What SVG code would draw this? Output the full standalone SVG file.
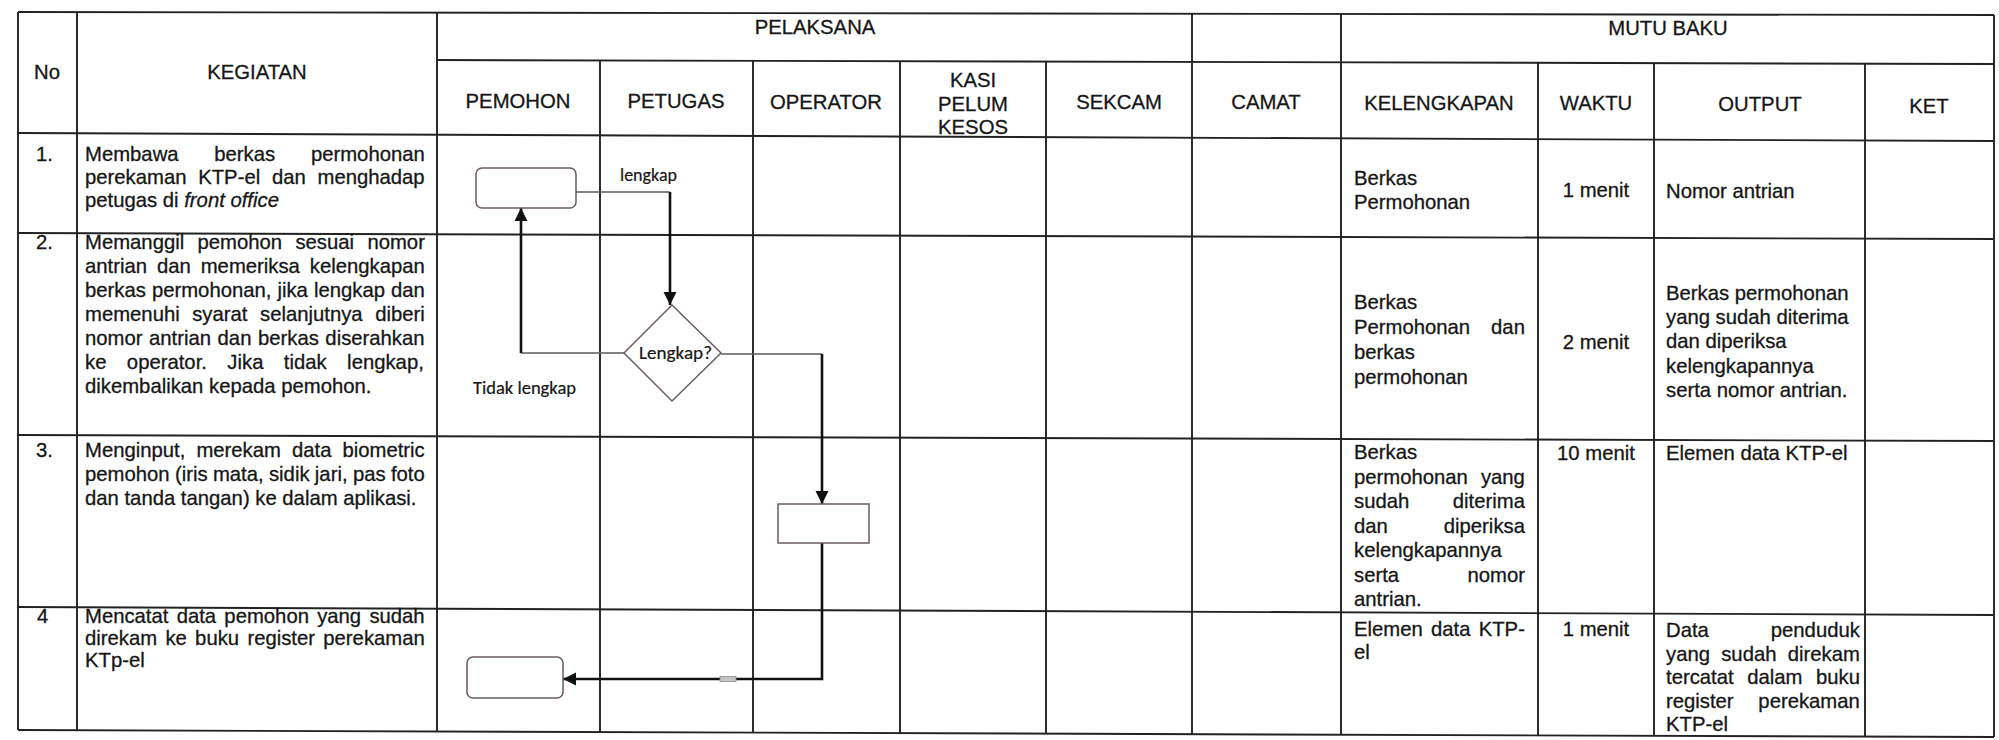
<svg xmlns="http://www.w3.org/2000/svg" width="1999" height="740" viewBox="0 0 1999 740">
<style>
.t{font-family:"Liberation Sans",Arial,sans-serif;font-size:20.3px;fill:#161616;stroke:#161616;stroke-width:0.3}
.c{text-anchor:middle}
.lbl{font-family:Carlito,Lato,"Open Sans",sans-serif;font-size:18.5px;fill:#161616;stroke:#161616;stroke-width:0.2}
.grid line{stroke:#222;stroke-width:1.9}
.thin{stroke:#5a5a5a;stroke-width:1.4;fill:none}
.thick{stroke:#111;stroke-width:2.6;fill:none}
.shape{fill:#fff;stroke:#6a5c5c;stroke-width:1.5}
</style>
<defs>
<marker id="arr" markerUnits="userSpaceOnUse" markerWidth="14" markerHeight="14" refX="13" refY="6.5" orient="auto">
<path d="M0,0 L13,6.5 L0,13 z" fill="#111"/>
</marker>
</defs>
<rect width="1999" height="740" fill="#fff"/>
<g id="table" class="grid">
<line x1="18" y1="12" x2="1994" y2="15"/>
<line x1="437" y1="60" x2="1994" y2="64"/>
<line x1="18" y1="133" x2="1994" y2="141"/>
<line x1="18" y1="233" x2="1994" y2="239"/>
<line x1="18" y1="435" x2="1994" y2="441"/>
<line x1="18" y1="607" x2="1994" y2="615"/>
<line x1="18" y1="730" x2="1994" y2="737"/>
<line x1="18" y1="12" x2="18" y2="730"/>
<line x1="77" y1="12" x2="77" y2="730"/>
<line x1="437" y1="12.6" x2="437" y2="731.5"/>
<line x1="600" y1="60.4" x2="600" y2="732"/>
<line x1="753" y1="60.8" x2="753" y2="732.6"/>
<line x1="900" y1="61.2" x2="900" y2="733.1"/>
<line x1="1046" y1="61.6" x2="1046" y2="733.6"/>
<line x1="1192" y1="13.8" x2="1192" y2="734.2"/>
<line x1="1341" y1="14" x2="1341" y2="734.7"/>
<line x1="1538" y1="63.1" x2="1538" y2="735.4"/>
<line x1="1654" y1="63.4" x2="1654" y2="735.8"/>
<line x1="1865" y1="64" x2="1865" y2="736.5"/>
<line x1="1994" y1="15" x2="1994" y2="737"/>
</g>
<g id="header">
<text class="t c" x="47" y="79">No</text>
<text class="t c" x="257" y="79">KEGIATAN</text>
<text class="t c" x="815" y="34">PELAKSANA</text>
<text class="t c" x="1668" y="35">MUTU BAKU</text>
<text class="t c" x="518" y="108">PEMOHON</text>
<text class="t c" x="676" y="108">PETUGAS</text>
<text class="t c" x="826" y="109">OPERATOR</text>
<text class="t c" x="973" y="87">KASI</text>
<text class="t c" x="973" y="111">PELUM</text>
<text class="t c" x="973" y="134">KESOS</text>
<text class="t c" x="1119" y="109">SEKCAM</text>
<text class="t c" x="1266" y="109">CAMAT</text>
<text class="t c" x="1439" y="110">KELENGKAPAN</text>
<text class="t c" x="1596" y="110">WAKTU</text>
<text class="t c" x="1760" y="111">OUTPUT</text>
<text class="t c" x="1929" y="113">KET</text>
</g>
<g id="row1">
<text class="t" x="36" y="161">1.</text>
<text class="t" x="85" y="161" word-spacing="30.1">Membawa berkas permohonan</text>
<text class="t" x="85" y="184" word-spacing="6.1">perekaman KTP-el dan menghadap</text>
<text class="t" x="85" y="207">petugas di <tspan font-style="italic">front office</tspan></text>
<text class="t" x="1354" y="185">Berkas</text>
<text class="t" x="1354" y="209">Permohonan</text>
<text class="t c" x="1596" y="197">1 menit</text>
<text class="t" x="1666" y="198">Nomor antrian</text>
</g>
<g id="row2">
<text class="t" x="36" y="249">2.</text>
<text class="t" x="85" y="249" word-spacing="7.7">Memanggil pemohon sesuai nomor</text>
<text class="t" x="85" y="273" word-spacing="4.3">antrian dan memeriksa kelengkapan</text>
<text class="t" x="85" y="297" word-spacing="0.4">berkas permohonan, jika lengkap dan</text>
<text class="t" x="85" y="321" word-spacing="6.9">memenuhi syarat selanjutnya diberi</text>
<text class="t" x="85" y="345" word-spacing="0.9">nomor antrian dan berkas diserahkan</text>
<text class="t" x="85" y="369" word-spacing="14.8">ke operator. Jika tidak lengkap,</text>
<text class="t" x="85" y="393">dikembalikan kepada pemohon.</text>
<text class="t" x="1354" y="309">Berkas</text>
<text class="t" x="1354" y="334" word-spacing="15.3">Permohonan dan</text>
<text class="t" x="1354" y="359">berkas</text>
<text class="t" x="1354" y="384">permohonan</text>
<text class="t c" x="1596" y="349">2 menit</text>
<text class="t" x="1666" y="300">Berkas permohonan</text>
<text class="t" x="1666" y="324">yang sudah diterima</text>
<text class="t" x="1666" y="348">dan diperiksa</text>
<text class="t" x="1666" y="373">kelengkapannya</text>
<text class="t" x="1666" y="397">serta nomor antrian.</text>
</g>
<g id="row3">
<text class="t" x="36" y="457">3.</text>
<text class="t" x="85" y="457" word-spacing="5.4">Menginput, merekam data biometric</text>
<text class="t" x="85" y="481" word-spacing="-0.3">pemohon (iris mata, sidik jari, pas foto</text>
<text class="t" x="85" y="505">dan tanda tangan) ke dalam aplikasi.</text>
<text class="t" x="1354" y="459">Berkas</text>
<text class="t" x="1354" y="483.5" word-spacing="7.4">permohonan yang</text>
<text class="t" x="1354" y="508" word-spacing="37.9">sudah diterima</text>
<text class="t" x="1354" y="532.5" word-spacing="50.3">dan diperiksa</text>
<text class="t" x="1354" y="557">kelengkapannya</text>
<text class="t" x="1354" y="581.5" word-spacing="62.7">serta nomor</text>
<text class="t" x="1354" y="606">antrian.</text>
<text class="t c" x="1596" y="460">10 menit</text>
<text class="t" x="1666" y="460">Elemen data KTP-el</text>
</g>
<g id="row4">
<text class="t" x="37" y="623">4</text>
<text class="t" x="85" y="623" word-spacing="2.6">Mencatat data pemohon yang sudah</text>
<text class="t" x="85" y="645" word-spacing="2.65">direkam ke buku register perekaman</text>
<text class="t" x="85" y="667">KTp-el</text>
<text class="t" x="1354" y="636" word-spacing="2.6">Elemen data KTP-</text>
<text class="t" x="1354" y="659">el</text>
<text class="t c" x="1596" y="636">1 menit</text>
<text class="t" x="1666" y="637" word-spacing="56.3">Data penduduk</text>
<text class="t" x="1666" y="660.5" word-spacing="5.6">yang sudah direkam</text>
<text class="t" x="1666" y="684" word-spacing="7.9">tercatat dalam buku</text>
<text class="t" x="1666" y="707.5" word-spacing="19.1">register perekaman</text>
<text class="t" x="1666" y="731">KTP-el</text>
</g>
<g id="connectors">
<path class="thin" d="M576,192 H670"/>
<path class="thick" d="M670,192 V305" marker-end="url(#arr)"/>
<path class="thin" d="M624,353 H521"/>
<path class="thick" d="M521,353 V208" marker-end="url(#arr)"/>
<path class="thin" d="M721,354 H822"/>
<path class="thick" d="M822,354 V504" marker-end="url(#arr)"/>
<path class="thick" d="M822,543 V679 H563" marker-end="url(#arr)"/>
<rect x="720" y="676.5" width="16" height="5" fill="#c4c4c4" stroke="#8a8a8a" stroke-width="0.8"/>
<text class="lbl" x="620" y="181" textLength="57" lengthAdjust="spacingAndGlyphs">lengkap</text>
<text class="lbl" x="473" y="394" textLength="103" lengthAdjust="spacingAndGlyphs">Tidak lengkap</text>
</g>
<g id="node-pemohon-1">
<rect class="shape" x="476" y="168" width="100" height="40" rx="6"/>
</g>
<g id="node-lengkap">
<polygon class="shape" points="672,305 721,353 672,401 624,353"/>
<text class="lbl" x="639" y="359" textLength="73" lengthAdjust="spacingAndGlyphs">Lengkap?</text>
</g>
<g id="node-operator">
<rect class="shape" x="778" y="504" width="91" height="39" stroke="#555"/>
</g>
<g id="node-pemohon-4">
<rect class="shape" x="467" y="657" width="96" height="41" rx="6"/>
</g>
</svg>
